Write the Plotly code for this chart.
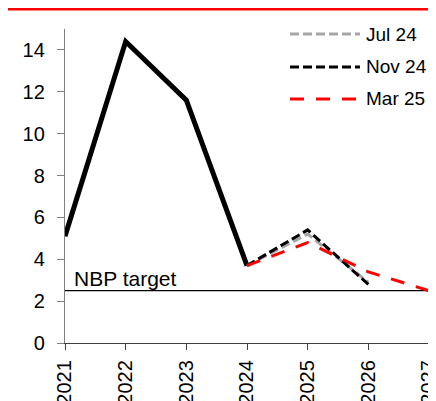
import plotly.graph_objects as go

years_actual = [2021, 2022, 2023, 2024]
cpi_actual = [5.1, 14.4, 11.6, 3.7]

years_jul24 = [2024, 2025, 2026]
cpi_jul24 = [3.7, 5.2, 2.9]

years_nov24 = [2024, 2025, 2026]
cpi_nov24 = [3.7, 5.4, 2.8]

years_mar25 = [2024, 2025, 2026, 2027]
cpi_mar25 = [3.7, 4.8, 3.4, 2.5]

target_years = [2021, 2027]
nbp_target = [2.5, 2.5]

tick_years = [2021, 2022, 2023, 2024, 2025, 2026, 2027]
tick_labels = [str(y) for y in tick_years]

series = [
    ("Jul 24", years_jul24, cpi_jul24, "#A6A6A6", "9px,4px"),
    ("Nov 24", years_nov24, cpi_nov24, "#000000", "9px,4px"),
    ("Mar 25", years_mar25, cpi_mar25, "#FF0000", "14px,12px"),
]

FONT = "Liberation Sans, Arial, sans-serif"

fig = go.Figure()
fig.add_trace(go.Scatter(x=target_years, y=nbp_target, mode="lines",
                         line=dict(color="#000000", width=1.3), showlegend=False, hoverinfo="skip"))
fig.add_trace(go.Scatter(x=years_actual, y=cpi_actual, mode="lines",
                         line=dict(color="#000000", width=5), showlegend=False))
for name, xs, ys, col, dash in series:
    fig.add_trace(go.Scatter(x=xs, y=ys, mode="lines", name=name,
                             line=dict(color=col, width=3, dash=dash), showlegend=False))

# page has an 8px body margin; figure coordinates = page coordinates - 8
OFF = 8
W, H = 436 - OFF, 401 - OFF
ml, mr, mt, mb = 65 - OFF, 7, 29 - OFF, 58
pw, ph = W - ml - mr, H - mt - mb

def px_to_paper_x(px):
    return (px - OFF - ml) / pw

def px_to_paper_y(py):
    return (H - mb - (py - OFF)) / ph

shapes = []
annotations = []
# red rule under (clipped) title
shapes.append(dict(type="line", xref="paper", yref="paper",
                   x0=px_to_paper_x(8), x1=px_to_paper_x(436),
                   y0=px_to_paper_y(9), y1=px_to_paper_y(9),
                   line=dict(color="#FF0000", width=3)))
annotations.append(dict(xref="paper", yref="paper", x=px_to_paper_x(12), y=px_to_paper_y(1),
                        xanchor="left", yanchor="bottom", showarrow=False,
                        text="<b>(CPI y/y, in percent)</b>",
                        font=dict(family=FONT, size=17, color="#000000")))
# custom legend
legend_y = [34, 67, 99]
for (name, xs, ys, col, dash), ly in zip(series, legend_y):
    shapes.append(dict(type="line", xref="paper", yref="paper",
                       x0=px_to_paper_x(290), x1=px_to_paper_x(360),
                       y0=px_to_paper_y(ly), y1=px_to_paper_y(ly),
                       line=dict(color=col, width=3, dash=dash)))
    annotations.append(dict(xref="paper", yref="paper", x=px_to_paper_x(364), y=px_to_paper_y(ly),
                            xanchor="left", yanchor="middle", showarrow=False, text=name,
                            font=dict(family=FONT, size=19, color="#000000")))
annotations.append(dict(xref="x", yref="y", x=2021, y=2.5, xanchor="left", yanchor="bottom",
                        xshift=7, yshift=-1, showarrow=False, text="NBP target",
                        font=dict(family=FONT, size=21, color="#000000")))

fig.update_layout(
    width=W, height=H,
    margin=dict(l=ml, r=mr, t=mt, b=mb, autoexpand=False),
    paper_bgcolor="white", plot_bgcolor="white",
    font=dict(family=FONT, size=20, color="#000000"),
    shapes=shapes, annotations=annotations,
    showlegend=False,
)
fig.update_xaxes(range=[2021, 2027], tickvals=tick_years, ticktext=tick_labels,
                 tickangle=-90, showgrid=False, zeroline=False, automargin=False,
                 ticklabeloverflow="allow",
                 showline=True, linecolor="#404040", linewidth=1.3,
                 ticks="outside", ticklen=6, tickcolor="#404040", tickwidth=1.3,
                 ticklabelstandoff=2)
fig.update_yaxes(range=[0, 15], tickvals=[0, 2, 4, 6, 8, 10, 12, 14], showgrid=False, zeroline=False,
                 automargin=False,
                 showline=True, linecolor="#808080", linewidth=1.3,
                 ticks="outside", ticklen=7, tickcolor="#808080", tickwidth=1.3,
                 ticklabelstandoff=8)

fig.write_html("out.html")
